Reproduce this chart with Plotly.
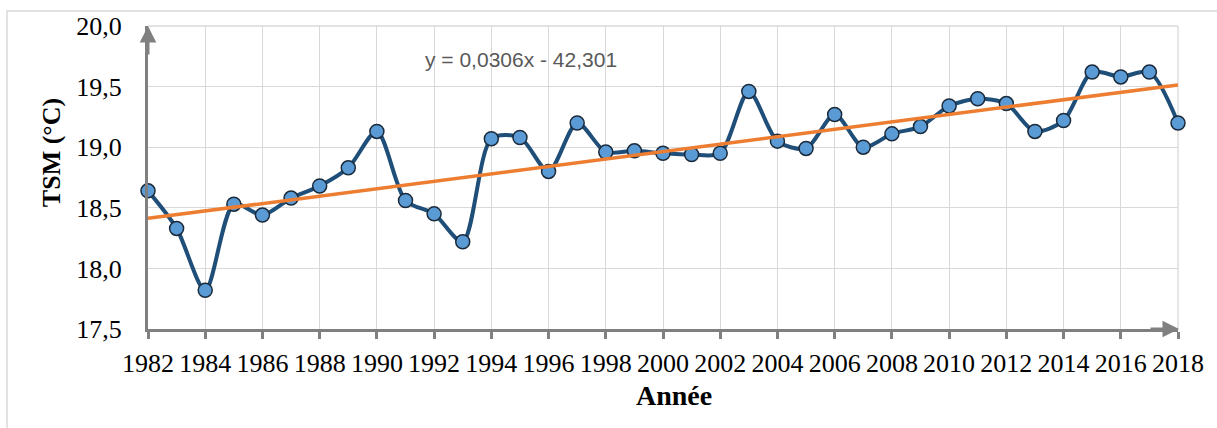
import numpy as np
import plotly.graph_objects as go

# Annual mean sea surface temperature (TSM) series
years = list(range(1982, 2019))
tsm = [18.64, 18.33, 17.82, 18.53, 18.44, 18.58, 18.68, 18.83, 19.13, 18.56,
       18.45, 18.22, 19.07, 19.08, 18.80, 19.20, 18.96, 18.97, 18.95, 18.94,
       18.95, 19.46, 19.05, 18.99, 19.27, 19.00, 19.11, 19.17, 19.34, 19.40,
       19.36, 19.13, 19.22, 19.62, 19.58, 19.62, 19.20]

trend_label = "y = 0,0306x - 42,301"
trend_slope = 0.0306

x_ticks = list(range(1982, 2019, 2))
y_ticks = [17.5, 18.0, 18.5, 19.0, 19.5, 20.0]

# Linear trend: stated slope, passing through the series mean
yr = np.array(years, dtype=float)
vals = np.array(tsm)
intercept = vals.mean() - trend_slope * yr.mean()
trend = trend_slope * yr + intercept

W, H = 1217, 428
L, R, T, B = 148, 39, 24, 99
pw, ph = W - L - R, H - T - B

def px(xp):
    return (xp - L) / pw

def py(yp):
    return (H - B - yp) / ph

fig = go.Figure()

fig.add_trace(go.Scatter(
    x=years, y=tsm, mode="lines+markers",
    line=dict(color="#1F4E79", width=4, shape="spline", smoothing=0.8),
    marker=dict(size=14, color="#5B9BD5", line=dict(color="#1a2a3a", width=1.5)),
    cliponaxis=False, showlegend=False,
))

fig.add_trace(go.Scatter(
    x=years, y=trend, mode="lines",
    line=dict(color="#ED7D31", width=3.5),
    cliponaxis=False, showlegend=False,
))

serif = "Liberation Serif, Times New Roman, serif"

fig.update_layout(
    width=W, height=H,
    margin=dict(l=L, r=R, t=T, b=B, pad=0),
    paper_bgcolor="white", plot_bgcolor="white",
    separators=", ",
    font=dict(family=serif, color="black"),
    xaxis=dict(
        range=[1982, 2018], tickvals=x_ticks, ticktext=[str(v) for v in x_ticks],
        showgrid=True, gridcolor="#d9d9d9", gridwidth=1.3,
        showline=True, linecolor="#808080", linewidth=3,
        ticks="outside", ticklen=7, tickwidth=3, tickcolor="#808080",
        ticklabelstandoff=2,
        tickfont=dict(size=26, family=serif, color="black"),
        zeroline=False, fixedrange=True,
    ),
    yaxis=dict(
        range=[17.5, 20.0], tickvals=y_ticks, tickformat=".1f",
        showgrid=True, gridcolor="#d9d9d9", gridwidth=1.3,
        showline=True, linecolor="#808080", linewidth=3,
        ticks="", ticklabelstandoff=18,
        tickfont=dict(size=26, family=serif, color="black"),
        zeroline=False, fixedrange=True,
    ),
)

# Right and top grid borders
fig.add_shape(type="line", xref="paper", yref="paper", x0=0, x1=1, y0=1, y1=1,
              line=dict(color="#d9d9d9", width=1.3), layer="below")
fig.add_shape(type="line", xref="paper", yref="paper", x0=1, x1=1, y0=0, y1=1,
              line=dict(color="#d9d9d9", width=1.3), layer="below")

# Outer frame of the chart
fig.add_shape(type="rect", xref="paper", yref="paper",
              x0=px(7), x1=px(1240), y0=py(9), y1=py(450),
              line=dict(color="#d9d9d9", width=1.5))

# Axis arrowheads
fig.add_annotation(xref="paper", yref="paper", x=0, y=1, ax=0, ay=30,
                   showarrow=True, arrowhead=2, arrowsize=1.1, arrowwidth=3,
                   arrowcolor="#808080", text="")
fig.add_annotation(xref="paper", yref="paper", x=1.001, y=0, ax=-30, ay=0,
                   showarrow=True, arrowhead=2, arrowsize=1.1, arrowwidth=3,
                   arrowcolor="#808080", text="")

# Axis titles
fig.add_annotation(xref="paper", yref="paper", x=px(674), y=py(396),
                   xanchor="center", yanchor="middle",
                   text="<b>Année</b>", showarrow=False,
                   font=dict(size=28, family=serif, color="black"))
fig.add_annotation(xref="paper", yref="paper", x=px(51), y=py(152),
                   xanchor="center", yanchor="middle",
                   text="<b>TSM (°C)</b>", showarrow=False, textangle=-90,
                   font=dict(size=26, family=serif, color="black"))

# Trend equation
fig.add_annotation(xref="paper", yref="paper", x=px(521), y=py(58),
                   xanchor="center", yanchor="middle",
                   text=trend_label, showarrow=False,
                   font=dict(size=21, family="Liberation Sans, Arial, sans-serif",
                             color="#595959"))

fig.write_html("out.html")
